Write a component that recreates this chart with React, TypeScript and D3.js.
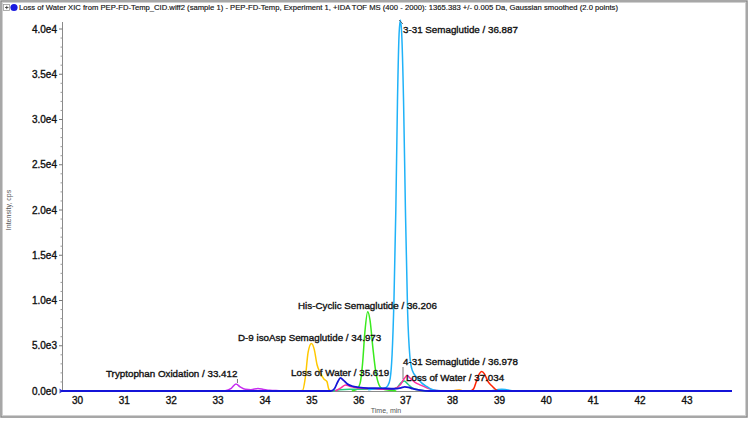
import React from "react";
import * as d3 from "d3";

type Pt = [number, number];

const titleText =
  "Loss of Water XIC from PEP-FD-Temp_CID.wiff2 (sample 1) - PEP-FD-Temp, Experiment 1, +IDA TOF MS (400 - 2000): 1365.383 +/- 0.005 Da, Gaussian smoothed (2.0 points)";
const xAxisTitle = "Time, min";
const yAxisTitle = "Intensity, cps";

const xTicks = [30, 31, 32, 33, 34, 35, 36, 37, 38, 39, 40, 41, 42, 43];
const yTicks = [0, 5000, 10000, 15000, 20000, 25000, 30000, 35000, 40000];
const yTickLabels = ["0.0e0", "5.0e3", "1.0e4", "1.5e4", "2.0e4", "2.5e4", "3.0e4", "3.5e4", "4.0e4"];

// series (time, intensity)
const purpleSeries: Pt[] = [
  [32.9, 0], [33.15, 40], [33.28, 300], [33.38, 780], [33.47, 450], [33.58, 180],
  [33.7, 150], [33.85, 280], [33.97, 180], [34.1, 80], [34.3, 40], [34.5, 0],
];
const yellowSeries: Pt[] = [
  [34.7, 0], [34.8, 60], [34.86, 1500], [34.92, 4300], [34.99, 5250], [35.05, 4600],
  [35.11, 2900], [35.18, 2000], [35.26, 1300], [35.32, 1050], [35.36, 200], [35.4, 0],
];
const greenSeries: Pt[] = [
  [35.85, 0], [35.95, 150], [36.03, 900], [36.08, 3000], [36.13, 6500], [36.19, 8750],
  [36.24, 7800], [36.3, 4800], [36.36, 2200], [36.43, 700], [36.5, 250], [36.65, 80], [36.8, 0],
];
const tealSeries: Pt[] = [
  [35.45, 0], [35.6, 150], [35.8, 200], [36.0, 200], [36.4, 200], [36.7, 180], [36.82, 400],
  [36.9, 900], [36.97, 1100], [37.05, 750], [37.15, 300], [37.3, 100], [37.45, 0],
];
const pinkSeries: Pt[] = [
  [35.5, 0], [35.62, 350], [35.72, 650], [35.82, 500], [35.95, 350], [36.2, 250], [36.5, 200],
  [36.75, 250], [36.88, 650], [36.96, 1300], [37.03, 1700], [37.1, 1400], [37.2, 950],
  [37.32, 650], [37.45, 350], [37.58, 100], [37.75, 0],
];
const cyanSeries: Pt[] = [
  [36.2, 150], [36.4, 280], [36.55, 330], [36.62, 600], [36.67, 1400], [36.71, 4000],
  [36.75, 10000], [36.79, 20000], [36.825, 32000], [36.86, 39500], [36.887, 41000],
  [36.915, 39500], [36.955, 32000], [36.995, 20000], [37.04, 9000], [37.09, 3800],
  [37.14, 2300], [37.24, 1500], [37.34, 900], [37.45, 500], [37.55, 200], [37.68, 50],
  [37.8, 0], [38.8, 0], [38.95, 140], [39.05, 200], [39.15, 140], [39.3, 0],
];
const redSeries: Pt[] = [
  [38.38, 0], [38.45, 250], [38.51, 1100], [38.57, 1900], [38.62, 2150], [38.68, 1900],
  [38.75, 1100], [38.82, 650], [38.88, 350], [38.95, 60], [39.0, 0],
];
const orangeSeries: Pt[] = [
  [38.0, 0], [38.08, 90], [38.14, 110], [38.22, 0],
];
const blueSeries: Pt[] = [
  [29.67, 0], [35.4, 0], [35.48, 250], [35.55, 1000], [35.61, 1450], [35.67, 1200],
  [35.75, 800], [35.85, 550], [36.0, 400], [36.2, 320], [36.5, 300], [36.75, 250],
  [36.9, 350], [36.98, 450], [37.06, 400], [37.15, 250], [37.3, 100], [37.5, 0], [43.96, 0],
];

const seriesList: { data: Pt[]; color: string }[] = [
  { data: purpleSeries, color: "#c62ef0" },
  { data: yellowSeries, color: "#ffc800" },
  { data: greenSeries, color: "#3aea1e" },
  { data: tealSeries, color: "#22d080" },
  { data: pinkSeries, color: "#ff2ea0" },
  { data: cyanSeries, color: "#1fb2f8" },
  { data: redSeries, color: "#ff2200" },
  { data: orangeSeries, color: "#ff9a00" },
  { data: blueSeries, color: "#1414d8" },
];

const peakLabels = [
  { text: "3-31 Semaglutide / 36.887", x: 403, y: 33 },
  { text: "His-Cyclic Semaglutide / 36.206", x: 298, y: 309 },
  { text: "D-9 isoAsp Semaglutide / 34.973", x: 238, y: 341 },
  { text: "Tryptophan Oxidation / 33.412", x: 106, y: 377 },
  { text: "Loss of Water / 35.619", x: 291, y: 376 },
  { text: "4-31 Semaglutide / 36.978", x: 403, y: 365 },
  { text: "Loss of Water / 37.034", x: 406, y: 381 },
];

const W = 750;
const H = 421;

export default function App() {
  const x = d3.scaleLinear().domain([29.67, 43.96]).range([62, 732]);
  const y = d3.scaleLinear().domain([0, 40000]).range([391, 29]);
  const line = d3
    .line<Pt>()
    .x((d) => x(d[0]))
    .y((d) => y(d[1]))
    .curve(d3.curveMonotoneX);
  const minorY = d3.range(0, 41000, 1000).filter((v) => v % 5000 !== 0);
  const font = "Arial, 'Liberation Sans', sans-serif";

  return (
    <div style={{ position: "absolute", left: 0, top: 0 }}>
      <svg width={W} height={H} style={{ display: "block", background: "#fff" }} fontFamily={font}>
        <rect x={1} y={1} width={746} height={416} fill="#fff" stroke="#8a8a8a" strokeWidth={1.5} />
        <rect x={2.5} y={2.5} width={743} height={413} fill="none" stroke="#d0d0d0" strokeWidth={1} />
        {/* title row */}
        <rect x={3.5} y={4.5} width={6} height={6} fill="#fff" stroke="#999" strokeWidth={0.8} />
        <path d="M5,7.5H8.5M6.75,5.8V9.2" stroke="#333" strokeWidth={0.8} />
        <circle cx={14} cy={7.5} r={3.6} fill="#1a1ae0" />
        <text x={19} y={10.3} fontSize={7.6} fill="#111" stroke="#111" strokeWidth={0.15} textLength={599} lengthAdjust="spacingAndGlyphs">
          {titleText}
        </text>

        {/* y axis */}
        <line x1={62.5} x2={62.5} y1={22} y2={391} stroke="#8a8a8a" strokeWidth={1} />
        {yTicks.map((v, i) => (
          <g key={"yt" + v}>
            <line x1={59} x2={62.5} y1={y(v)} y2={y(v)} stroke="#777" />
            <text x={57} y={y(v) + 3.5} fontSize={10} textAnchor="end" fill="#111" stroke="#111" strokeWidth={0.35}>
              {yTickLabels[i]}
            </text>
          </g>
        ))}
        {minorY.map((v) => (
          <line key={"ym" + v} x1={60.5} x2={62.5} y1={y(v)} y2={y(v)} stroke="#999" />
        ))}
        <text
          transform={`translate(11,${(391 + 29) / 2}) rotate(-90)`}
          fontSize={7}
          textAnchor="middle"
          fill="#555"
        >
          {yAxisTitle}
        </text>

        {/* x axis */}
        <line x1={62} x2={732} y1={391.5} y2={391.5} stroke="#8a8a8a" />
        {xTicks.map((t) => (
          <text key={"xt" + t} x={x(t)} y={404} fontSize={10} textAnchor="middle" fill="#111" stroke="#111" strokeWidth={0.35}>
            {t}
          </text>
        ))}
        <text x={386} y={413} fontSize={7} textAnchor="middle" fill="#555">
          {xAxisTitle}
        </text>

        {/* traces */}
        {seriesList.map((s, i) => (
          <path
            key={"s" + i}
            d={line(s.data) || ""}
            fill="none"
            stroke={s.color}
            strokeWidth={i === seriesList.length - 1 ? 1.8 : 1.5}
            strokeLinejoin="round"
          />
        ))}

        {/* origin marker */}
        <path d="M59,388.5 L63.5,391 L59,393.5 L60.5,391 Z" fill="#1414d8" />

        {/* leader ticks */}
        <line x1={x(33.412)} x2={x(33.412)} y1={379} y2={383} stroke="#555" strokeWidth={0.8} />
        <line x1={403} x2={403} y1={367} y2={379} stroke="#555" strokeWidth={0.8} />
        <line x1={399} x2={403} y1={20} y2={24} stroke="#555" strokeWidth={0.8} />

        {/* peak labels */}
        {peakLabels.map((l) => (
          <text key={l.text} x={l.x} y={l.y} fontSize={9.8} fill="#111" stroke="#111" strokeWidth={0.35}>
            {l.text}
          </text>
        ))}
      </svg>
    </div>
  );
}
